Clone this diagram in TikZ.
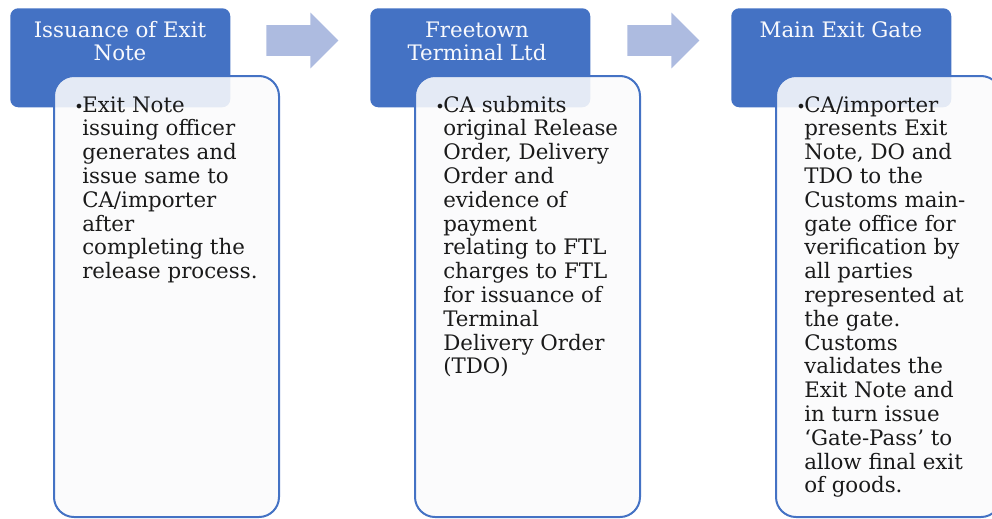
\documentclass[tikz,border=0pt]{standalone}
\usepackage{fontspec}
\setmainfont{DejaVu Serif}
\usetikzlibrary{shapes.arrows,positioning}

\definecolor{hdrblue}{HTML}{4472C4}
\definecolor{arrblue}{HTML}{ADBBE0}
\definecolor{bodyfill}{HTML}{FBFBFC}
\definecolor{bodyink}{HTML}{1A1A1A}

\newcommand{\blt}{\makebox[6pt][l]{\fontsize{12}{12}\selectfont\textbullet}}

\tikzset{
  hdr/.style={fill=hdrblue, rounded corners=6pt, anchor=north west, inner sep=0pt,
    minimum width=165pt, minimum height=74.25pt},
  hdrtext/.style={text=white!96!hdrblue, anchor=base, inner sep=0pt,
    font=\fontsize{16}{17.85}\selectfont},
  bodybox/.style={draw=hdrblue, line width=1.5pt, fill=bodyfill, fill opacity=0.88,
    rounded corners=15pt, anchor=north west, inner sep=0pt,
    minimum width=168.75pt, minimum height=330.75pt},
  bodytext/.style={anchor=base west, inner sep=0pt, text=bodyink,
    font=\fontsize{16}{17.85}\selectfont},
  flow/.style={single arrow, fill=arrblue, draw=none, anchor=west,
    inner xsep=0pt, inner ysep=11.25pt, minimum height=54pt,
    single arrow head extend=9.4pt}
}

\begin{document}
\begin{tikzpicture}[x=0.75pt,y=-0.75pt]
  \useasboundingbox (0,0) rectangle (992,518);

  % blue headers
  \node[hdr] (h1) at (10,8) {};
  \node[hdr] (h2) at (370,8) {};
  \node[hdr] (h3) at (731,8) {};

  % header titles
  \node[hdrtext] (t1) at (120,37) {\begin{tabular}[t]{@{}c@{}}Issuance of Exit\\Note\end{tabular}};
  \node[hdrtext] (t2) at (477,37) {\begin{tabular}[t]{@{}c@{}}Freetown\\Terminal Ltd\end{tabular}};
  \node[hdrtext] (t3) at (841,37) {Main Exit Gate};

  % arrows between steps
  \node[flow] (a1) at (266,40.5) {};
  \node[flow] (a2) at (627,40.5) {};

  % white boxes laid over the headers
  \node[bodybox] (b1) at (53,75) {};
  \node[bodybox] (b2) at (414,75) {};
  \node[bodybox] (b3) at (775,75) {};

  % box texts
  \node[bodytext] (x1) at (74,112) {\blt\begin{tabular}[t]{@{}l@{}}Exit Note\\
    issuing officer\\generates and\\issue same to\\CA/importer\\after\\
    completing the\\release process.\end{tabular}};
  \node[bodytext] (x2) at (435,112) {\blt\begin{tabular}[t]{@{}l@{}}CA submits\\
    original Release\\Order, Delivery\\Order and\\evidence of\\payment\\
    relating to FTL\\charges to FTL\\for issuance of\\Terminal\\
    Delivery Order\\(TDO)\end{tabular}};
  \node[bodytext] (x3) at (796,112) {\blt\begin{tabular}[t]{@{}l@{}}CA/importer\\
    presents Exit\\Note, DO and\\TDO to the\\Customs main-\\gate office for\\
    verification by\\all parties\\represented at\\the gate.\\Customs\\
    validates the\\Exit Note and\\in turn issue\\‘Gate-Pass’ to\\
    allow final exit\\of goods.\end{tabular}};
\end{tikzpicture}
\end{document}
